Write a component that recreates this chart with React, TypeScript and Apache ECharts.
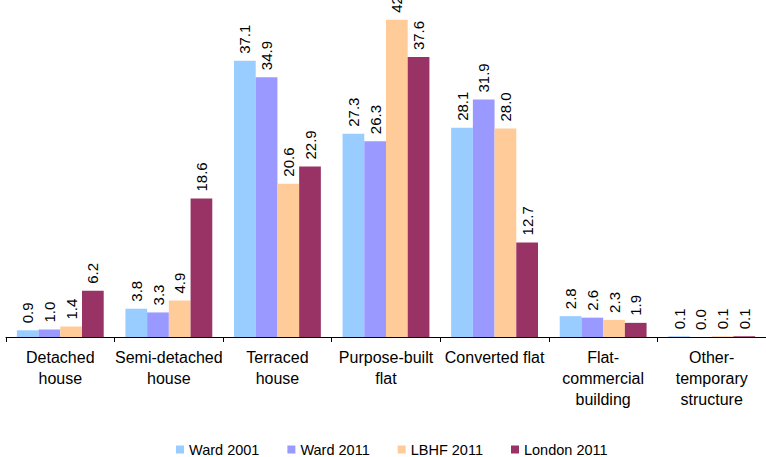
import React, { useEffect, useRef } from "react";
import * as echarts from "echarts";

const categories = [
  "Detached\nhouse",
  "Semi-detached\nhouse",
  "Terraced\nhouse",
  "Purpose-built\nflat",
  "Converted flat",
  "Flat-\ncommercial\nbuilding",
  "Other-\ntemporary\nstructure",
];
const ward2001 = [0.9, 3.8, 37.1, 27.3, 28.1, 2.8, 0.1];
const ward2011 = [1.0, 3.3, 34.9, 26.3, 31.9, 2.6, 0.0];
const lbhf2011 = [1.4, 4.9, 20.6, 42.6, 28.0, 2.3, 0.1];
const london2011 = [6.2, 18.6, 22.9, 37.6, 12.7, 1.9, 0.1];

const seriesDefs = [
  { name: "Ward 2001", data: ward2001, color: "#99CCFF" },
  { name: "Ward 2011", data: ward2011, color: "#9999FF" },
  { name: "LBHF 2011", data: lbhf2011, color: "#FFCC99" },
  { name: "London 2011", data: london2011, color: "#993366" },
];

const FONT = "'Liberation Sans', Arial, sans-serif";

export default function App() {
  const ref = useRef<HTMLDivElement>(null);
  useEffect(() => {
    if (!ref.current) return;
    const chart = echarts.init(ref.current, undefined, { renderer: "svg" });
    chart.setOption({
      animation: false,
      backgroundColor: "#ffffff",
      textStyle: { fontFamily: FONT },
      legend: {
        left: 176,
        top: 442,
        padding: 0,
        icon: "rect",
        itemWidth: 8,
        itemHeight: 8,
        itemGap: 28,
        textStyle: { fontSize: 14.5, lineHeight: 14, color: "#000", fontFamily: FONT },
        data: seriesDefs.map((s) => s.name),
      },
      grid: { left: 6, width: 765, top: 2, height: 335, containLabel: false },
      xAxis: {
        type: "category",
        data: categories,
        axisLine: { lineStyle: { color: "#000", width: 1 } },
        axisTick: { show: true, length: 5, lineStyle: { color: "#000" }, alignWithLabel: false },
        axisLabel: {
          color: "#000",
          fontSize: 16,
          fontFamily: FONT,
          lineHeight: 21,
          margin: 10,
          interval: 0,
        },
      },
      yAxis: {
        type: "value",
        min: 0,
        max: 45,
        show: false,
        splitLine: { show: false },
      },
      series: seriesDefs.map((s) => ({
        name: s.name,
        type: "bar",
        data: s.data,
        barCategoryGap: "20%",
        barGap: "0%",
        itemStyle: { color: s.color },
        label: {
          show: true,
          position: "top",
          rotate: 90,
          align: "left",
          verticalAlign: "middle",
          distance: 7,
          fontSize: 15,
          color: "#000",
          fontFamily: FONT,
          formatter: (p: any) => Number(p.value).toFixed(1),
        },
      })),
    });
    return () => chart.dispose();
  }, []);
  return (
    <div
      ref={ref}
      style={{ position: "fixed", left: 0, top: 0, width: 766, height: 457 }}
    />
  );
}
